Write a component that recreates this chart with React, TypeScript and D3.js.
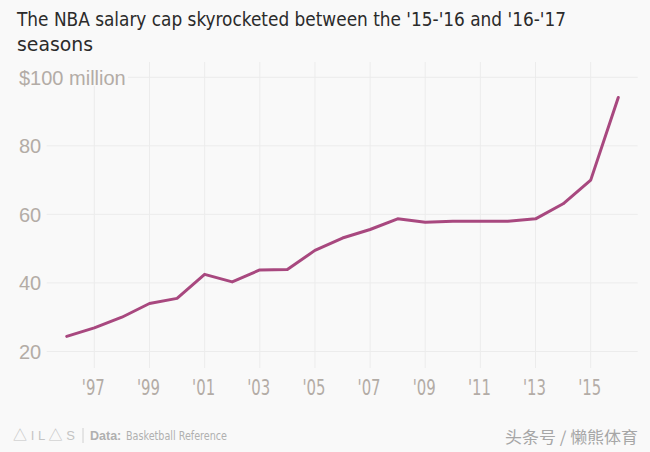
import React from "react";
import * as d3 from "d3";

const seasons: number[] = [1996, 1997, 1998, 1999, 2000, 2001, 2002, 2003, 2004, 2005, 2006, 2007, 2008, 2009, 2010, 2011, 2012, 2013, 2014, 2015, 2016];
const salaryCap: number[] = [24.4, 26.9, 30.0, 34.0, 35.5, 42.5, 40.3, 43.8, 43.9, 49.5, 53.1, 55.6, 58.7, 57.7, 58.0, 58.0, 58.0, 58.7, 63.1, 70.0, 94.1];
const xTicks: number[] = [1997, 1999, 2001, 2003, 2005, 2007, 2009, 2011, 2013, 2015];
const yTicks: number[] = [20, 40, 60, 80, 100];

const W = 650;
const H = 452;
const BG = "#f9f9f9";
const NARROW = "'Liberation Sans Narrow', 'DejaVu Sans Condensed', sans-serif";

export default function App() {
  const x = d3.scaleLinear().domain([1997, 2015]).range([94.3, 590.7]);
  const y = d3.scaleLinear().domain([20, 100]).range([351.5, 77.3]);
  const line = d3
    .line<number>()
    .x((_, i) => x(seasons[i]))
    .y((d) => y(d));

  const fmtYear = (yr: number) => "'" + String(yr).slice(2);
  const fmtY = (v: number) => (v === 100 ? "$100 million" : String(v));

  return (
    <div style={{ position: "absolute", left: 0, top: 0 }}>
      <svg width={W} height={H} style={{ display: "block" }}>
        <rect x={0} y={0} width={W} height={H} fill={BG} />
        <text x={17} y={26} fontFamily={NARROW} fontSize={20} fill="#2b2b2b" textLength={549} lengthAdjust="spacingAndGlyphs">
          The NBA salary cap skyrocketed between the '15-'16 and '16-'17
        </text>
        <text x={17} y={51} fontFamily={NARROW} fontSize={20} fill="#2b2b2b" textLength={76} lengthAdjust="spacingAndGlyphs">
          seasons
        </text>

        {xTicks.map((t) => (
          <line key={"vx" + t} x1={x(t)} x2={x(t)} y1={62} y2={368} stroke="#ececec" strokeWidth={1} />
        ))}
        {yTicks.map((t) => (
          <line key={"hy" + t} x1={t === 100 ? 128 : 46.7} x2={637.7} y1={y(t)} y2={y(t)} stroke="#ececec" strokeWidth={1} />
        ))}
        <rect x={14} y={60} width={113} height={26} fill={BG} />
        {yTicks.map((t) => (
          <text key={"yl" + t} x={19} y={y(t) + 7.5} fontFamily="'Liberation Sans', Arial, sans-serif" fontSize={20} fill="#b3aca6">
            {fmtY(t)}
          </text>
        ))}
        {xTicks.map((t) => (
          <text key={"xl" + t} x={x(t) - 1} y={395} textAnchor="middle" fontFamily={NARROW} fontSize={21} fill="#b3aca6" textLength={23} lengthAdjust="spacingAndGlyphs">
            {fmtYear(t)}
          </text>
        ))}

        <path d={line(salaryCap) || ""} fill="none" stroke="#a8487f" strokeWidth={3} strokeLinejoin="round" strokeLinecap="round" />

        <text x={13} y={440} fontFamily="'Liberation Sans', Arial, sans-serif" fontSize={13} fill="#c4c4c4" textLength={62} lengthAdjust="spacing">
          <tspan fontFamily="'Noto Sans CJK SC', sans-serif" fontSize={14}>△</tspan>
          <tspan> I L </tspan>
          <tspan fontFamily="'Noto Sans CJK SC', sans-serif" fontSize={14}>△</tspan>
          <tspan> S</tspan>
        </text>
        <line x1={83} x2={83} y1={428} y2={443} stroke="#d0d0d0" strokeWidth={1} />
        <text x={90} y={440} fontFamily="'Liberation Sans', Arial, sans-serif" fontSize={12.5} fontWeight="bold" fill="#b0b0b0">
          Data:
        </text>
        <text x={126} y={440} fontFamily={NARROW} fontSize={12} fill="#b0b0b0" textLength={101} lengthAdjust="spacingAndGlyphs">
          Basketball Reference
        </text>
        <text x={505} y={443} fontFamily="'Noto Sans CJK SC', sans-serif" fontSize={16} fill="#a6a6a6" textLength={133} lengthAdjust="spacingAndGlyphs">
          头条号 / 懒熊体育
        </text>
      </svg>
    </div>
  );
}
